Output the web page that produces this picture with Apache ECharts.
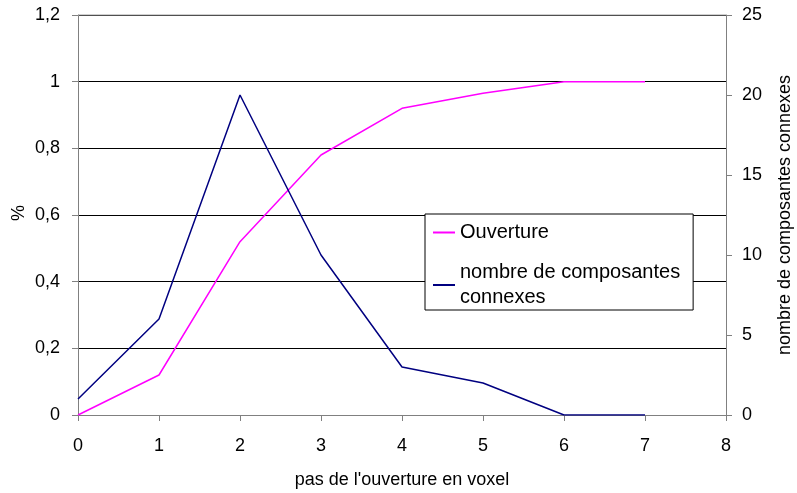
<!DOCTYPE html>
<html>
<head>
<meta charset="utf-8">
<script src="https://cdn.jsdelivr.net/npm/echarts@6/dist/echarts.min.js"></script>
<style>html,body{margin:0;padding:0;background:#fff}#c{width:797px;height:493px}</style>
</head>
<body>
<div id="c"></div>
<script>
var categories = [0, 1, 2, 3, 4, 5, 6, 7];
var ouverture = [0, 0.12, 0.52, 0.78, 0.92, 0.965, 1, 1];
var composantes = [1, 6, 20, 10, 3, 2, 0, 0];
var leftTicks = [0, 0.2, 0.4, 0.6, 0.8, 1, 1.2];
var rightTicks = [0, 5, 10, 15, 20, 25];

var font = 'Arial, "Liberation Sans", sans-serif';
var chart = echarts.init(document.getElementById('c'));
function pairs(vals) { return vals.map(function (v, i) { return [categories[i], v]; }); }
chart.setOption({
  animation: false,
  backgroundColor: '#fff',
  textStyle: { fontFamily: font },
  grid: { left: 78, right: 71, top: 15, bottom: 78, outerBoundsMode: 'none', containLabel: false },
  legend: {
    left: 425, top: 214, orient: 'vertical',
    padding: [6, 13, 0, 8],
    itemGap: 15,
    itemWidth: 22, itemHeight: 2,
    icon: 'rect',
    borderColor: '#000', borderWidth: 1, backgroundColor: '#fff',
    textStyle: { fontSize: 20, color: '#000', fontFamily: font, lineHeight: 25 },
    formatter: function (n) { return n === 'nombre de composantes connexes' ? 'nombre de composantes\nconnexes' : n; },
    data: ['Ouverture', 'nombre de composantes connexes']
  },
  xAxis: {
    type: 'value', min: 0, max: 8, interval: 1,
    name: "pas de l'ouverture en voxel", nameLocation: 'middle', nameGap: 56,
    nameTextStyle: { fontSize: 18, color: '#000', fontFamily: font },
    axisLine: { lineStyle: { color: '#808080', width: 1 } },
    axisTick: { show: true, length: 6, lineStyle: { color: '#808080' } },
    axisLabel: { fontSize: 18, color: '#000', margin: 22, fontFamily: font },
    splitLine: { show: false }
  },
  yAxis: [{
    type: 'value', min: 0, max: 1.2, interval: 0.2, position: 'left',
    axisLine: { show: true, lineStyle: { color: '#808080', width: 1 } },
    axisTick: { show: true, length: 6, lineStyle: { color: '#808080' } },
    axisLabel: { fontSize: 18, color: '#000', margin: 18, fontFamily: font,
      formatter: function (v) { return String(Math.round(v * 10) / 10).replace('.', ','); } },
    splitLine: { show: true, lineStyle: { color: '#000', width: 1 } }
  }, {
    type: 'value', min: 0, max: 25, interval: 5, position: 'right',
    name: 'nombre de composantes connexes', nameLocation: 'middle', nameGap: 50, nameRotate: 90,
    nameTextStyle: { fontSize: 18, color: '#000', fontFamily: font },
    axisLine: { show: true, lineStyle: { color: '#808080', width: 1 } },
    axisTick: { show: true, length: 6, lineStyle: { color: '#808080' } },
    axisLabel: { fontSize: 18, color: '#000', margin: 16, fontFamily: font },
    splitLine: { show: false }
  }],
  graphic: [{
    type: 'text', left: 10, top: 205, rotation: Math.PI / 2,
    style: { text: '%', fontSize: 18, fill: '#000', font: '18px ' + font }
  }, {
    type: 'line', shape: { x1: 78, y1: 15, x2: 726, y2: 15 }, style: { stroke: '#a0a0a0', lineWidth: 1 }, z: 5
  }],
  series: [{
    name: 'Ouverture', type: 'line', yAxisIndex: 0, data: pairs(ouverture),
    symbol: 'none', lineStyle: { color: '#ff00ff', width: 1.5 }, itemStyle: { color: '#ff00ff' }
  }, {
    name: 'nombre de composantes connexes', type: 'line', yAxisIndex: 1, data: pairs(composantes),
    symbol: 'none', lineStyle: { color: '#000080', width: 1.5 }, itemStyle: { color: '#000080' }
  }]
});
</script>
</body>
</html>
